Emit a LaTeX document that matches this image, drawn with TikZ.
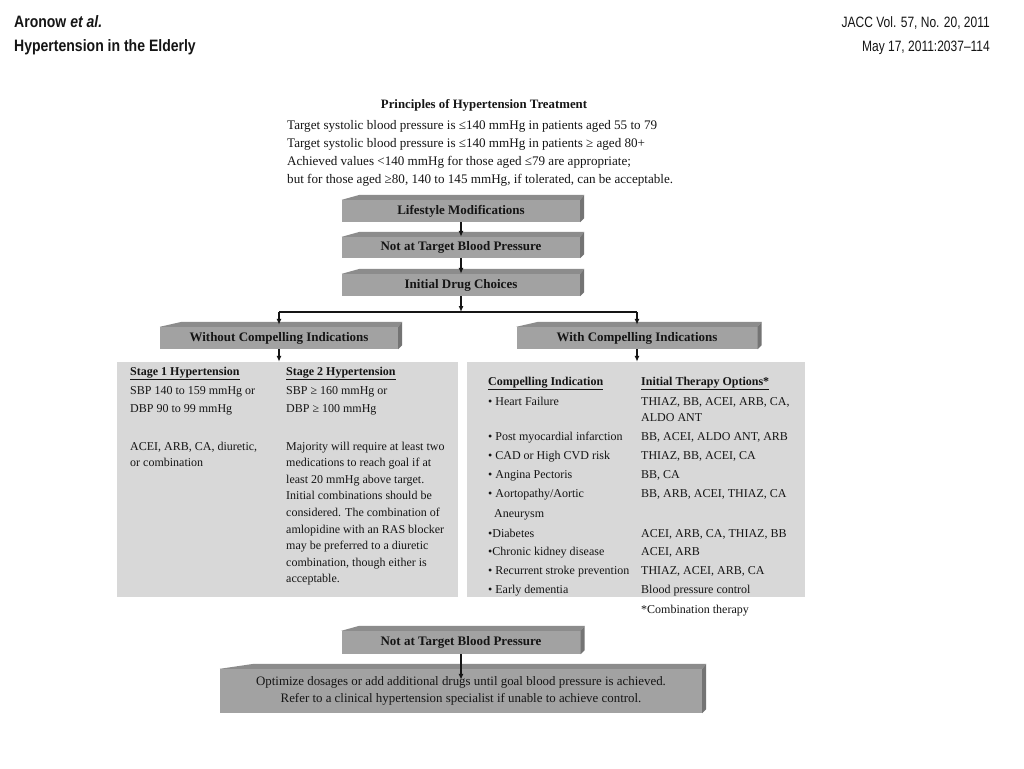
\documentclass[tikz,border=0pt]{standalone}
\usepackage{fontspec}
\setmainfont{Liberation Serif}
\newfontfamily\hdrfont[FakeStretch=0.85]{Liberation Sans}
\newfontfamily\hdrfontr[FakeStretch=0.8]{Liberation Sans}
\usetikzlibrary{calc,arrows.meta}
\definecolor{slabfront}{HTML}{A2A2A2}
\definecolor{slabtop}{HTML}{8C8C8C}
\definecolor{slabside}{HTML}{747474}
\definecolor{panelgray}{HTML}{D8D8D8}
\definecolor{ink}{HTML}{151515}
\newcommand\slabfaces[2]{%
  \fill[slabtop] (#1.north west) -- ($(#1.north west)+(#2,-5)$) -- ($(#1.north east)+(4,-5)$) -- (#1.north east) -- cycle;
  \fill[slabside] (#1.north east) -- ($(#1.north east)+(4,-5)$) -- ($(#1.south east)+(4,-4)$) -- (#1.south east) -- cycle;
}
\tikzset{
  slab/.style={fill=slabfront, inner sep=0pt, text=ink, align=center,
    font=\fontsize{13}{16}\selectfont\bfseries},
  panel/.style={fill=panelgray, inner sep=0pt},
  ptext/.style={anchor=base west, inner sep=0pt, text=ink, font=\fontsize{12}{14}\selectfont},
  prtext/.style={anchor=base west, inner sep=0pt, text=ink, font=\fontsize{13.1}{15}\selectfont},
  hdrb/.style={inner sep=0pt, text=ink, font=\hdrfont\bfseries\fontsize{16.5}{18}\selectfont},
  hdr/.style={inner sep=0pt, text=ink, font=\hdrfontr\fontsize{15}{17}\selectfont},
  arr/.style={line width=1.4pt, draw=ink, -{Latex[length=6pt,width=5pt]}},
  bar/.style={line width=2.2pt, draw=ink}
}
\begin{document}
\begin{tikzpicture}[x=1pt,y=-1pt]
\useasboundingbox[fill=white] (0,0) rectangle (1024,768);

% header
\node[hdrb, anchor=base west] (auth) at (14,28) {Aronow \textit{et al.}};
\node[hdrb, anchor=base west] (ttl) at (14,52) {Hypertension in the Elderly};
\node[hdr, anchor=base east] (jrn) at (990,28) {JACC Vol. 57, No. 20, 2011};
\node[hdr, anchor=base east] (dte) at (990,52) {May 17, 2011:2037–114};

% principles
\node[ptext, anchor=base, font=\fontsize{12.8}{14}\selectfont\bfseries] (princ) at (484,108) {Principles of Hypertension Treatment};
\node[prtext] (pr1) at (287,129) {Target systolic blood pressure is ≤140 mmHg in patients aged 55 to 79};
\node[prtext] (pr2) at (287,147) {Target systolic blood pressure is ≤140 mmHg in patients ≥ aged 80+};
\node[prtext] (pr3) at (287,165) {Achieved values <140 mmHg for those aged ≤79 are appropriate;};
\node[prtext] (pr4) at (287,183) {but for those aged ≥80, 140 to 145 mmHg, if tolerated, can be acceptable.};

% slabs
\node[slab, minimum width=238pt, minimum height=22pt] (life) at (461,211) {Lifestyle Modifications};
\slabfaces{life}{18}
\node[slab, minimum width=238pt, minimum height=21pt] (nota) at (461,247.5) {Not at Target Blood Pressure};
\slabfaces{nota}{18}
\node[slab, minimum width=238pt, minimum height=22pt] (drug) at (461,285) {Initial Drug Choices};
\slabfaces{drug}{18}
\node[slab, minimum width=238pt, minimum height=22pt] (without) at (279,338) {Without Compelling Indications};
\slabfaces{without}{22}
\node[slab, minimum width=241pt, minimum height=22pt] (with) at (637,338) {With Compelling Indications};
\slabfaces{with}{22}

% panels
\node[panel, minimum width=341pt, minimum height=235pt] (leftp) at (287.5,479.5) {};
\node[panel, minimum width=338pt, minimum height=235pt] (rightp) at (636,479.5) {};

% left panel text
\node[ptext] (s1h) at (130,375) {\underline{\textbf{Stage 1 Hypertension}}};
\node[ptext] (s2h) at (286,375) {\underline{\textbf{Stage 2 Hypertension}}};
\node[ptext] (s1a) at (130,394) {SBP 140 to 159 mmHg or};
\node[ptext] (s1b) at (130,412) {DBP 90 to 99 mmHg};
\node[ptext] (s2a) at (286,394) {SBP ≥ 160 mmHg or};
\node[ptext] (s2b) at (286,412) {DBP ≥ 100 mmHg};
\node[ptext] (s1c) at (130,450) {ACEI, ARB, CA, diuretic,};
\node[ptext] (s1d) at (130,466.6) {or combination};
\foreach \t [count=\i] in {Majority will require at least two, medications to reach goal if at, least 20 mmHg above target., Initial combinations should be, {considered. The combination of}, amlopidine with an RAS blocker, may be preferred to a diuretic, {combination, though either is}, acceptable.}
  \node[ptext] (s2p\i) at (286,{450+16.6*(\i-1)}) {\t};

% right panel text
\node[ptext] (cih) at (488,385) {\underline{\textbf{Compelling Indication}}};
\node[ptext] (ith) at (641,385) {\underline{\textbf{Initial Therapy Options*}}};
\node[ptext] (ci1) at (488,405) {• Heart Failure};
\node[ptext] (it1) at (641,405) {THIAZ, BB, ACEI, ARB, CA,};
\node[ptext] (it1b) at (641,421) {ALDO ANT};
\node[ptext] (ci2) at (488,440) {• Post myocardial infarction};
\node[ptext] (it2) at (641,440) {BB, ACEI, ALDO ANT, ARB};
\node[ptext] (ci3) at (488,459) {• CAD or High CVD risk};
\node[ptext] (it3) at (641,459) {THIAZ, BB, ACEI, CA};
\node[ptext] (ci4) at (488,478) {• Angina Pectoris};
\node[ptext] (it4) at (641,478) {BB, CA};
\node[ptext] (ci5) at (488,497) {• Aortopathy/Aortic};
\node[ptext] (ci5b) at (494,517) {Aneurysm};
\node[ptext] (it5) at (641,497) {BB, ARB, ACEI, THIAZ, CA};
\node[ptext] (ci6) at (488,537) {•Diabetes};
\node[ptext] (it6) at (641,537) {ACEI, ARB, CA, THIAZ, BB};
\node[ptext] (ci7) at (488,555) {•Chronic kidney disease};
\node[ptext] (it7) at (641,555) {ACEI, ARB};
\node[ptext] (ci8) at (488,574) {• Recurrent stroke prevention};
\node[ptext] (it8) at (641,574) {THIAZ, ACEI, ARB, CA};
\node[ptext] (ci9) at (488,593) {• Early dementia};
\node[ptext] (it9) at (641,593) {Blood pressure control};
\node[ptext] (itn) at (641,613) {*Combination therapy};

% bottom slabs
\node[slab, minimum width=239pt, minimum height=23pt] (notb) at (461,642.5) {Not at Target Blood Pressure};
\slabfaces{notb}{18}
\node[slab, minimum width=482pt, minimum height=44pt, font=\fontsize{12.9}{16.5}\selectfont] (final) at (461,691) {Optimize dosages or add additional drugs until goal blood pressure is achieved.\\Refer to a clinical hypertension specialist if unable to achieve control.};
\slabfaces{final}{34}

% connectors
\draw[arr] (life.south) -- (nota.north);
\draw[arr] (nota.south) -- (drug.north);
\coordinate (split) at (461,312);
\draw[arr] (drug.south) -- (split);
\draw[bar] (without.north |- split) -- (with.north |- split);
\draw[arr] (without.north |- split) -- ($(without.north)+(0,-2)$);
\draw[arr] (with.north |- split) -- ($(with.north)+(0,-2)$);
\draw[arr] (without.south) -- (without.south |- leftp.north);
\draw[arr] (with.south) -- (with.south |- rightp.north);
\draw[arr] (notb.south) -- ($(notb.south |- final.north)+(0,11)$);
\end{tikzpicture}
\end{document}
